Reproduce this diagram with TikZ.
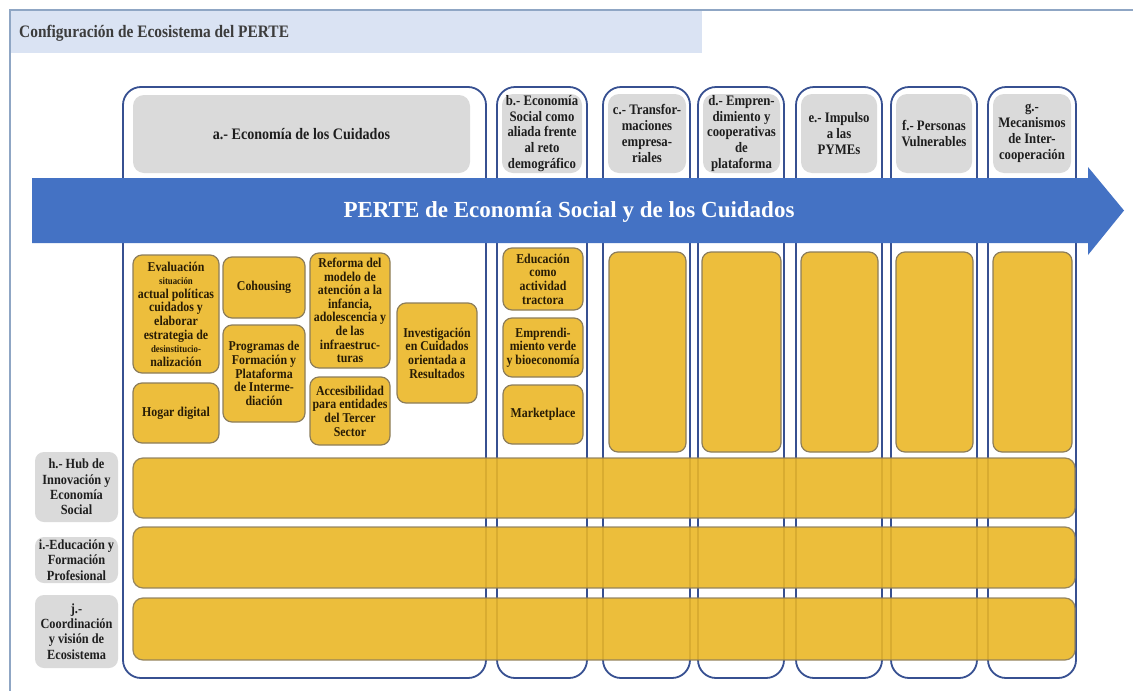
\documentclass[tikz,border=0pt]{standalone}
\usepackage{fontspec}
\setmainfont{Liberation Serif}
\newfontfamily\condfont[FakeStretch=0.88]{Liberation Serif}
\definecolor{colblue}{RGB}{55,80,145}
\definecolor{arrowblue}{RGB}{68,114,196}
\definecolor{hdgray}{RGB}{218,218,218}
\definecolor{yell}{RGB}{237,190,60}
\definecolor{yellb}{RGB}{235,183,38}
\definecolor{ybord}{RGB}{140,125,90}
\definecolor{framec}{RGB}{143,166,196}
\definecolor{bandblue}{RGB}{218,227,243}
\definecolor{txtdark}{RGB}{30,30,30}
\definecolor{ytxt}{RGB}{40,28,5}
\definecolor{titletxt}{RGB}{60,60,60}
\newcommand\hfont{\condfont\bfseries\fontsize{14.5}{15.8}\selectfont}
\newcommand\lfont{\condfont\bfseries\fontsize{14}{15.2}\selectfont}
\newcommand\yfont{\condfont\bfseries\fontsize{13.5}{13.6}\selectfont}
\newcommand\smallyf{\fontsize{10}{13.6}\selectfont}
\newcommand\boxat[7]{\node[#2, minimum width={#5pt-#3pt}, minimum height={#6pt-#4pt}] (#1) at ({(#3+#5)/2},{(#4+#6)/2}) {#7};}
\tikzset{
  colbox/.style={draw=colblue, line width=1.8pt, rounded corners=18pt, inner sep=0pt},
  head/.style={fill=hdgray, rounded corners=11pt, align=center, font=\hfont, text=txtdark, inner sep=0pt},
  rowlab/.style={head, rounded corners=9pt, font=\lfont},
  ybox/.style={fill=yell, draw=ybord, line width=1.2pt, rounded corners=9pt, align=center, font=\yfont, text=ytxt, inner sep=0pt},
  band/.style={fill=yellb, draw=ybord, line width=1.2pt, rounded corners=10pt, fill opacity=0.9, draw opacity=0.9, inner sep=0pt},
  framel/.style={draw=framec, line width=1.6pt},
}
\begin{document}
\begin{tikzpicture}[x=1pt,y=-1pt]
\useasboundingbox (0,0) rectangle (1133,691);
\fill[white] (0,0) rectangle (1133,691);
% outer frame and title band
\boxat{tband}{fill=bandblue, inner sep=0pt}{10}{11}{702}{53}{}
\coordinate (fbl) at (10,691);
\coordinate (ftl) at (10,10);
\coordinate (ftr) at (1133,10);
\draw[framel] (fbl) -- (ftl) -- (ftr);
\node[anchor=west, font=\condfont\bfseries\fontsize{17.5}{19}\selectfont, text=titletxt, inner sep=0pt] (title) at (19,33) {Configuración de Ecosistema del PERTE};
% column outlines
\boxat{colA}{colbox}{123}{87}{486}{678}{}
\boxat{colB}{colbox}{497}{87}{587}{678}{}
\boxat{colC}{colbox}{603}{87}{690}{678}{}
\boxat{colD}{colbox}{698}{87}{784}{678}{}
\boxat{colE}{colbox}{796}{87}{882}{678}{}
\boxat{colF}{colbox}{891}{87}{977}{678}{}
\boxat{colG}{colbox}{988}{87}{1076}{678}{}
% headers
\boxat{hA}{head, font=\condfont\bfseries\fontsize{16}{18}\selectfont}{133}{95}{470}{173}{a.- Economía de los Cuidados}
\boxat{hB}{head}{502}{94}{582}{173}{b.- Economía\\Social como\\aliada frente\\al reto\\demográfico}
\boxat{hC}{head}{608}{94}{686}{173}{c.- Transfor-\\maciones\\empresa-\\riales}
\boxat{hD}{head}{703}{94}{780}{173}{d.- Empren-\\dimiento y\\cooperativas\\de\\plataforma}
\boxat{hE}{head}{801}{94}{877}{173}{e.- Impulso\\a las\\PYMEs}
\boxat{hF}{head}{896}{94}{972}{173}{f.- Personas\\Vulnerables}
\boxat{hG}{head}{993}{94}{1071}{173}{g.-\\Mecanismos\\de Inter-\\cooperación}
% arrow
\coordinate (a1) at (32,178);
\coordinate (a2) at (1088,178);
\coordinate (a3) at (1088,167);
\coordinate (a4) at (1124,210.5);
\coordinate (a5) at (1088,255);
\coordinate (a6) at (1088,243);
\coordinate (a7) at (32,243);
\fill[arrowblue] (a1) -- (a2) -- (a3) -- (a4) -- (a5) -- (a6) -- (a7) -- cycle;
\node[font=\bfseries\fontsize{23}{25}\selectfont, text=white, inner sep=0pt] (arrowtxt) at (569,212) {PERTE de Economía Social y de los Cuidados};
% yellow boxes column a
\boxat{eval}{ybox}{133}{255}{219}{373}{Evaluación\\{\smallyf situación}\\actual políticas\\cuidados y\\elaborar\\estrategia de\\{\smallyf desinstitucio-}\\nalización}
\boxat{hogar}{ybox}{133}{383}{219}{443}{Hogar digital}
\boxat{cohou}{ybox}{223}{257}{305}{318}{Cohousing}
\boxat{progr}{ybox}{223}{325}{305}{422}{Programas de\\Formación y\\Plataforma\\de Interme-\\diación}
\boxat{refor}{ybox}{310}{253}{390}{368}{Reforma del\\modelo de\\atención a la\\infancia,\\adolescencia y\\de las\\infraestruc-\\turas}
\boxat{acces}{ybox}{310}{377}{390}{445}{Accesibilidad\\para entidades\\del Tercer\\Sector}
\boxat{inves}{ybox}{397}{303}{477}{403}{Investigación\\en Cuidados\\orientada a\\Resultados}
% column b
\boxat{educ}{ybox}{503}{248}{583}{310}{Educación\\como\\actividad\\tractora}
\boxat{empre}{ybox}{503}{318}{583}{377}{Emprendi-\\miento verde\\y bioeconomía}
\boxat{market}{ybox}{503}{385}{583}{444}{Marketplace}
% columns c-g
\boxat{yC}{ybox}{609}{252}{686}{452}{}
\boxat{yD}{ybox}{702}{252}{781}{452}{}
\boxat{yE}{ybox}{801}{252}{878}{452}{}
\boxat{yF}{ybox}{896}{252}{973}{452}{}
\boxat{yG}{ybox}{993}{252}{1072}{452}{}
% bands
\boxat{bH}{band}{133}{458}{1075}{518}{}
\boxat{bI}{band}{133}{527}{1075}{588}{}
\boxat{bJ}{band}{133}{598}{1075}{660}{}
% row labels
\boxat{lH}{rowlab}{35}{452}{118}{522}{h.- Hub de\\Innovación y\\Economía\\Social}
\boxat{lI}{rowlab}{35}{537}{118}{583}{i.-Educación y\\Formación\\Profesional}
\boxat{lJ}{rowlab}{35}{595}{118}{668}{j.-\\Coordinación\\y visión de\\Ecosistema}
\end{tikzpicture}
\end{document}
